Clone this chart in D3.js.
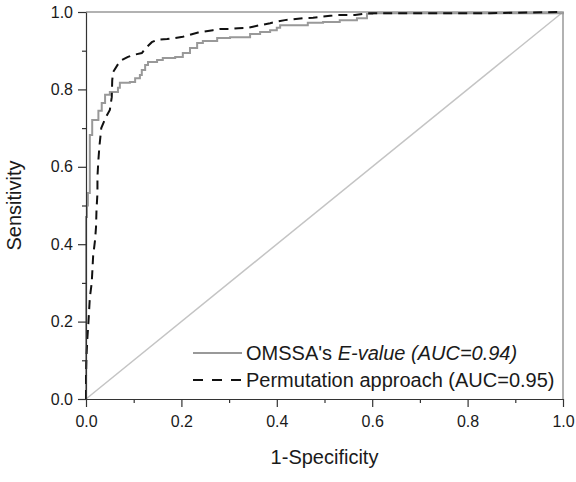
<!DOCTYPE html>
<html>
<head>
<meta charset="utf-8">
<script src="https://cdn.jsdelivr.net/npm/d3@7"></script>
<style>
  body { margin: 0; background: #fff; }
  svg { display: block; font-family: "Liberation Sans", Arial, sans-serif; }
  .axis path, .axis line { stroke: #333; stroke-width: 1.2; }
  .axis text { fill: #1a1a1a; font-size: 16px; }
</style>
</head>
<body>
<svg width="576" height="482"></svg>
<script>
// ROC points: [1-specificity, sensitivity]
const omssaFpr = [0, 0, 0.002, 0.002, 0.004, 0.008, 0.008, 0.013, 0.019, 0.026, 0.033, 0.040, 0.050, 0.067, 0.071,
  0.092, 0.103, 0.113, 0.117, 0.124, 0.130, 0.149, 0.161, 0.187, 0.203, 0.218, 0.233, 0.245, 0.275, 0.302,
  0.344, 0.365, 0.386, 0.400, 0.407, 0.461, 0.465, 0.497, 0.532, 0.568, 0.589, 0.600, 0.847, 1];
const omssaTpr = [0, 0.47, 0.47, 0.50, 0.532, 0.532, 0.682, 0.721, 0.721, 0.745, 0.765, 0.786, 0.793, 0.804, 0.817,
  0.819, 0.829, 0.837, 0.850, 0.863, 0.871, 0.876, 0.881, 0.884, 0.894, 0.907, 0.920, 0.925, 0.933, 0.935,
  0.943, 0.948, 0.953, 0.959, 0.966, 0.966, 0.972, 0.974, 0.979, 0.984, 0.995, 0.997, 0.997, 1];

const permFpr = [0, 0, 0.001, 0.003, 0.005, 0.008, 0.012, 0.015, 0.019, 0.021, 0.022, 0.024, 0.024, 0.026, 0.028,
  0.032, 0.042, 0.050, 0.054, 0.055, 0.057, 0.071, 0.088, 0.099, 0.117, 0.128, 0.138, 0.149, 0.170, 0.187,
  0.203, 0.218, 0.235, 0.245, 0.266, 0.281, 0.302, 0.319, 0.338, 0.350, 0.365, 0.386, 0.400, 0.417, 0.434,
  0.455, 0.476, 0.495, 0.512, 0.526, 0.543, 0.564, 0.589, 0.600, 0.847, 1];
const permTpr = [0, 0.057, 0.109, 0.160, 0.196, 0.261, 0.300, 0.370, 0.411, 0.444, 0.488, 0.532, 0.574, 0.618, 0.651,
  0.700, 0.729, 0.747, 0.780, 0.824, 0.845, 0.873, 0.884, 0.889, 0.894, 0.910, 0.922, 0.928, 0.930, 0.933,
  0.936, 0.941, 0.947, 0.949, 0.953, 0.956, 0.956, 0.958, 0.959, 0.962, 0.966, 0.971, 0.975, 0.979, 0.981,
  0.984, 0.985, 0.988, 0.990, 0.992, 0.992, 0.992, 0.997, 0.997, 0.997, 1];

const majorTicks = [0, 0.2, 0.4, 0.6, 0.8, 1.0];
const minorTicks = [0.1, 0.3, 0.5, 0.7, 0.9];
const legendItems = [
  { name: "OMSSA's ", italic: 'E-value (AUC=0.94)', key: 'omssa' },
  { name: 'Permutation approach (AUC=0.95)', italic: '', key: 'perm' }
];

const svg = d3.select('svg');
const mLeft = 86, mRight = 563, mTop = 12, mBottom = 399;
const x = d3.scaleLinear().domain([0, 1]).range([mLeft, mRight]);
const y = d3.scaleLinear().domain([0, 1]).range([mBottom, mTop]);
const fmt = d3.format('.1f');

// gray top/right frame
svg.append('path')
  .attr('d', `M${mLeft},${mTop}H${mRight}V${mBottom}`)
  .attr('fill', 'none')
  .attr('stroke', '#999')
  .attr('stroke-width', 1.5);

// chance diagonal
svg.append('line')
  .attr('x1', x(0)).attr('y1', y(0))
  .attr('x2', x(1)).attr('y2', y(1))
  .attr('stroke', '#c4c4c4')
  .attr('stroke-width', 1.5);

const line = d3.line().x(d => x(d[0])).y(d => y(d[1]));

svg.append('path')
  .datum(d3.zip(omssaFpr, omssaTpr))
  .attr('d', line.curve(d3.curveStepAfter))
  .attr('fill', 'none')
  .attr('stroke', '#999')
  .attr('stroke-width', 2);

svg.append('path')
  .datum(d3.zip(permFpr, permTpr))
  .attr('d', line.curve(d3.curveLinear))
  .attr('fill', 'none')
  .attr('stroke', '#111')
  .attr('stroke-width', 2)
  .attr('stroke-dasharray', '9,6');

// axes: minor ticks first, then major
svg.append('g').attr('class', 'axis')
  .attr('transform', `translate(0,${mBottom})`)
  .call(d3.axisBottom(x).tickValues(minorTicks).tickSize(4).tickFormat(''))
  .select('.domain').remove();
svg.append('g').attr('class', 'axis')
  .attr('transform', `translate(0,${mBottom})`)
  .call(d3.axisBottom(x).tickValues(majorTicks).tickSize(8).tickSizeOuter(0).tickPadding(9).tickFormat(fmt));

svg.append('g').attr('class', 'axis')
  .attr('transform', `translate(${mLeft},0)`)
  .call(d3.axisLeft(y).tickValues(minorTicks).tickSize(4).tickFormat(''))
  .select('.domain').remove();
svg.append('g').attr('class', 'axis')
  .attr('transform', `translate(${mLeft},0)`)
  .call(d3.axisLeft(y).tickValues(majorTicks).tickSize(8).tickSizeOuter(0).tickPadding(5).tickFormat(fmt));

svg.append('text')
  .attr('x', (mLeft + mRight) / 2)
  .attr('y', 464)
  .attr('text-anchor', 'middle')
  .attr('font-size', 20)
  .attr('fill', '#1a1a1a')
  .text('1-Specificity');

svg.append('text')
  .attr('transform', `translate(21,${(mTop + mBottom) / 2}) rotate(-90)`)
  .attr('text-anchor', 'middle')
  .attr('font-size', 20)
  .attr('fill', '#1a1a1a')
  .text('Sensitivity');

// legend
const legend = svg.append('g').attr('transform', 'translate(193,353)');
legendItems.forEach((item, i) => {
  const row = legend.append('g').attr('transform', `translate(0,${i * 27})`);
  row.append('line')
    .attr('x1', 0).attr('x2', 49)
    .attr('stroke', item.key === 'omssa' ? '#999' : '#111')
    .attr('stroke-width', 2)
    .attr('stroke-dasharray', item.key === 'omssa' ? null : '10,9');
  const t = row.append('text')
    .attr('x', 53).attr('y', 7)
    .attr('font-size', 20)
    .attr('fill', '#1a1a1a');
  t.append('tspan').text(item.name);
  if (item.italic) t.append('tspan').attr('font-style', 'italic').text(item.italic);
});
</script>
</body>
</html>
